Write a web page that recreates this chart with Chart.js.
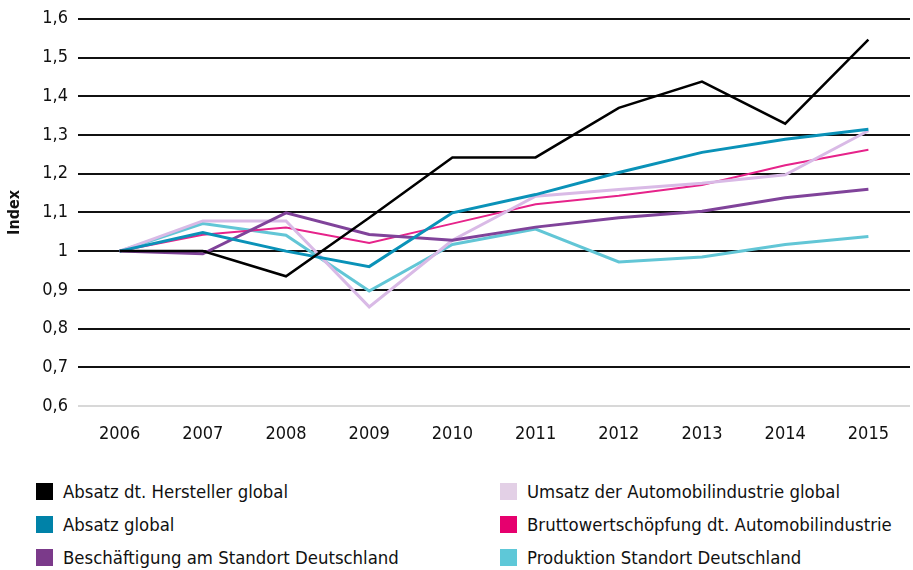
<!DOCTYPE html>
<html>
<head>
<meta charset="utf-8">
<script src="https://cdn.jsdelivr.net/npm/chart.js@4.4.1/dist/chart.umd.min.js"></script>
<style>
    body { margin: 0; background: #fff; font-family: "DejaVu Sans Condensed", "Liberation Sans Narrow", sans-serif; }
    #wrap { position: relative; width: 913px; height: 570px; overflow: hidden; }
    #chart { position: absolute; left: 0; top: -2px; }
    #legend { position: absolute; left: 36px; top: 482px; display: grid;
        grid-template-columns: 464px 400px; row-gap: 15px; }
    .item { display: flex; align-items: center; height: 18px; font-size: 18.4px; color: #111; white-space: nowrap; }
    .box { width: 17px; height: 17px; margin-right: 10px; flex: none; }
</style>
</head>
<body>
<div id="wrap">
    <canvas id="chart" width="913" height="452"></canvas>
    <div id="legend"></div>
</div>
<script>
const years = ["2006", "2007", "2008", "2009", "2010", "2011", "2012", "2013", "2014", "2015"];

const absatzHersteller = [1.0, 1.0, 0.935, 1.086, 1.242, 1.242, 1.37, 1.438, 1.329, 1.546];
const absatzGlobal = [1.0, 1.048, 1.0, 0.96, 1.099, 1.146, 1.203, 1.255, 1.289, 1.315];
const umsatzGlobal = [1.0, 1.078, 1.078, 0.856, 1.028, 1.142, 1.159, 1.175, 1.197, 1.311];
const bruttowert = [1.0, 1.042, 1.061, 1.021, 1.071, 1.121, 1.143, 1.171, 1.222, 1.262];
const beschaeftigung = [1.0, 0.993, 1.099, 1.043, 1.028, 1.062, 1.086, 1.103, 1.138, 1.16];
const produktion = [1.0, 1.071, 1.041, 0.897, 1.017, 1.057, 0.972, 0.985, 1.017, 1.038];

const series = [
    { label: "Absatz dt. Hersteller global", data: absatzHersteller, color: "#000000", legend: "#000000", width: 2.5 },
    { label: "Absatz global", data: absatzGlobal, color: "#0a92b8", legend: "#0082a8", width: 3 },
    { label: "Beschäftigung am Standort Deutschland", data: beschaeftigung, color: "#80439a", legend: "#7b3a8a", width: 3 },
    { label: "Umsatz der Automobilindustrie global", data: umsatzGlobal, color: "#d9bae6", legend: "#e3d0e6", width: 3 },
    { label: "Bruttowertschöpfung dt. Automobilindustrie", data: bruttowert, color: "#e6238a", legend: "#e6006e", width: 2 },
    { label: "Produktion Standort Deutschland", data: produktion, color: "#62c6d6", legend: "#5ec8d8", width: 3 },
];

const fontFamily = '"DejaVu Sans Condensed", "Liberation Sans Narrow", sans-serif';

// legend: two columns, filled column by column
const legendEl = document.getElementById("legend");
const order = [0, 3, 1, 4, 2, 5];
order.forEach((i) => {
    const s = series[i];
    const item = document.createElement("div");
    item.className = "item";
    item.innerHTML = `<span class="box" style="background:${s.legend}"></span>${s.label}`;
    legendEl.appendChild(item);
});

const ctx = document.getElementById("chart").getContext("2d");
new Chart(ctx, {
    type: "line",
    data: {
        labels: years,
        datasets: series.map((s) => ({
            label: s.label,
            data: s.data,
            borderColor: s.color,
            backgroundColor: s.color,
            borderWidth: s.width,
            pointRadius: 0,
            tension: 0,
            fill: false,
        })),
    },
    options: {
        responsive: false,
        animation: false,
        layout: { padding: { top: 13, right: 3, left: 0, bottom: 0 } },
        plugins: {
            legend: { display: false },
            tooltip: { enabled: false },
        },
        scales: {
            x: {
                offset: true,
                grid: { display: false, drawTicks: false },
                border: { display: false },
                ticks: { color: "#111", font: { family: fontFamily, size: 18 }, padding: 18, maxRotation: 0 },
                afterFit(scale) { scale.height = 44; },
            },
            y: {
                min: 0.6,
                max: 1.6,
                ticks: {
                    stepSize: 0.1,
                    color: "#111",
                    padding: 10,
                    font: { family: fontFamily, size: 18 },
                    callback: (v) => (Math.round(v * 10) / 10).toString().replace(".", ","),
                },
                grid: {
                    drawTicks: false,
                    lineWidth: 2,
                    color: (c) => (c.tick && Math.abs(c.tick.value - 0.6) < 1e-6 ? "#d8d8d8" : "#111"),
                },
                border: { display: false },
                title: {
                    display: true,
                    text: "Index",
                    color: "#111",
                    font: { family: fontFamily, size: 16, weight: "bold" },
                    padding: { top: 5, bottom: 0 },
                },
                afterFit(scale) { scale.width = 78; },
            },
        },
    },
});
</script>
</body>
</html>
